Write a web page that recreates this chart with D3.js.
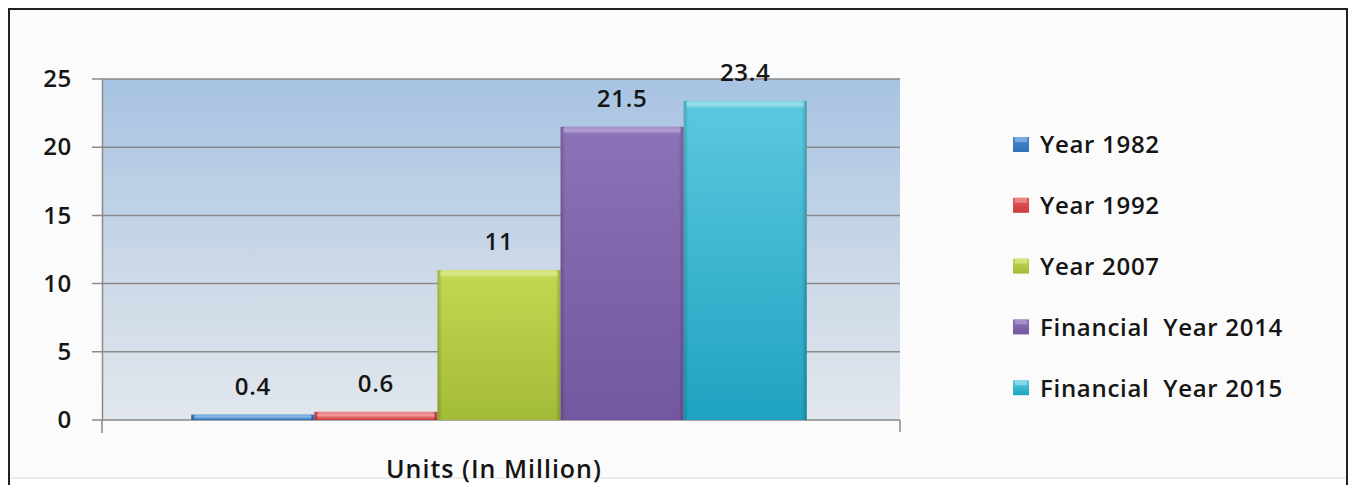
<!DOCTYPE html>
<html><head><meta charset="utf-8">
<script src="https://cdn.jsdelivr.net/npm/d3@7"></script>
<style>html,body{margin:0;padding:0;background:#fff;}svg{display:block;}</style>
</head><body>
<svg id="c" width="1354" height="485"></svg>
<script>
const categories = ["Units (In Million)"];
const seriesNames = ["Year 1982","Year 1992","Year 2007","Financial  Year 2014","Financial  Year 2015"];
const seriesValues = [0.4, 0.6, 11, 21.5, 23.4];
const valueLabels = ["0.4","0.6","11","21.5","23.4"];
const yTicks = [0,5,10,15,20,25];
const colorsTop = ["#4a8ad0","#e25a5a","#c4d752","#8c72b6","#5cc8df"];
const colorsBot = ["#2f6fb4","#cc3c3e","#a3bc38","#7357a0","#1fa3c1"];
const highlight = ["#8fbbe8","#f09a9a","#dbe88e","#b3a0d2","#9ae0ee"];

const svg = d3.select("#c");
const font = "'Open Sans', sans-serif";
const fs = 24, fw = 600, tc = "#151515", ls = "0.7px";
const defs = svg.append("defs");

// frame
svg.append("rect").attr("x",9).attr("y",9).attr("width",1338).attr("height",469).attr("fill","#fbfbfb").attr("stroke","none");
svg.append("line").attr("x1",9).attr("y1",478).attr("x2",1347).attr("y2",478).attr("stroke","#e6e6e6").attr("stroke-width",1.5);
svg.append("path").attr("d","M9,485 L9,9 L1347,9 L1347,485").attr("fill","none").attr("stroke","#222").attr("stroke-width",2);

const plot = {l:102, r:900, t:79, b:420};
const y = d3.scaleLinear().domain([0,25]).range([plot.b, plot.t]);
const x0 = d3.scaleBand().domain(categories).range([plot.l, plot.r - 4]).paddingInner(0).paddingOuter(0.145);
const x1 = d3.scaleBand().domain(seriesNames).range([0, x0.bandwidth()]).padding(0);

// plot background gradient
const bg = defs.append("linearGradient").attr("id","bg").attr("x1",0).attr("y1",0).attr("x2",0).attr("y2",1);
bg.append("stop").attr("offset","0%").attr("stop-color","#a7c3e2");
bg.append("stop").attr("offset","55%").attr("stop-color","#cbd8e7");
bg.append("stop").attr("offset","100%").attr("stop-color","#e2e7ed");
svg.append("rect").attr("x",plot.l).attr("y",plot.t).attr("width",plot.r-plot.l).attr("height",plot.b-plot.t).attr("fill","url(#bg)");

// gridlines
svg.append("g").selectAll("line").data(yTicks).join("line")
  .attr("x1",plot.l-10).attr("x2",plot.r).attr("y1",d=>y(d)).attr("y2",d=>y(d))
  .attr("stroke","#8a8a8a").attr("stroke-width",1.5);

// y axis
const yAxis = svg.append("g").attr("transform",`translate(${plot.l},0)`)
  .call(d3.axisLeft(y).tickValues(yTicks).tickSize(0).tickPadding(30));
yAxis.select(".domain").attr("stroke","#8a8a8a").attr("stroke-width",1.5);
yAxis.selectAll("text").attr("font-family",font).attr("font-size",fs).attr("font-weight",fw).attr("fill",tc).attr("letter-spacing",ls);
svg.append("line").attr("x1",plot.l).attr("x2",plot.l).attr("y1",plot.b).attr("y2",plot.b+13).attr("stroke","#8a8a8a").attr("stroke-width",1.5);
svg.append("line").attr("x1",plot.r).attr("x2",plot.r).attr("y1",plot.b).attr("y2",plot.b+12).attr("stroke","#8a8a8a").attr("stroke-width",1.5);

// gradients for bars
seriesNames.forEach((s,i)=>{
  const g = defs.append("linearGradient").attr("id","bar"+i).attr("x1",0).attr("y1",0).attr("x2",0).attr("y2",1);
  g.append("stop").attr("offset","0%").attr("stop-color",colorsTop[i]);
  g.append("stop").attr("offset","100%").attr("stop-color",colorsBot[i]);
  const h = defs.append("linearGradient").attr("id","hl"+i).attr("x1",0).attr("y1",0).attr("x2",0).attr("y2",1);
  h.append("stop").attr("offset","0%").attr("stop-color",highlight[i]).attr("stop-opacity",0.6);
  h.append("stop").attr("offset","45%").attr("stop-color",highlight[i]).attr("stop-opacity",1);
  h.append("stop").attr("offset","100%").attr("stop-color",colorsTop[i]).attr("stop-opacity",0);
});
const edge = defs.append("linearGradient").attr("id","edge").attr("x1",0).attr("y1",0).attr("x2",1).attr("y2",0);
edge.append("stop").attr("offset","0%").attr("stop-color","#000").attr("stop-opacity",0.18);
edge.append("stop").attr("offset","4%").attr("stop-color","#000").attr("stop-opacity",0);
edge.append("stop").attr("offset","96%").attr("stop-color","#000").attr("stop-opacity",0);
edge.append("stop").attr("offset","100%").attr("stop-color","#000").attr("stop-opacity",0.22);

const data = seriesNames.map((s,i)=>({s, v:seriesValues[i], label:valueLabels[i], i}));
const gx = x0(categories[0]);
const bars = svg.append("g").selectAll("g").data(data).join("g");
bars.append("rect").attr("x",d=>gx+x1(d.s)).attr("width",x1.bandwidth())
  .attr("y",d=>y(d.v)).attr("height",d=>y(0)-y(d.v)).attr("fill",d=>`url(#bar${d.i})`);
bars.append("rect").attr("x",d=>gx+x1(d.s)).attr("width",x1.bandwidth())
  .attr("y",d=>y(d.v)).attr("height",d=>y(0)-y(d.v)).attr("fill","url(#edge)");
bars.append("rect").attr("x",d=>gx+x1(d.s)+3).attr("width",x1.bandwidth()-6)
  .attr("y",d=>y(d.v)).attr("height",d=>Math.min(9,y(0)-y(d.v))).attr("rx",3)
  .attr("fill",d=>`url(#hl${d.i})`);
bars.append("text").attr("x",d=>gx+x1(d.s)+x1.bandwidth()/2).attr("y",d=>y(d.v)-28)
  .attr("dy","0.35em").attr("text-anchor","middle").attr("font-family",font).attr("font-size",fs).attr("font-weight",fw)
  .attr("letter-spacing",ls).attr("fill",tc).text(d=>d.label);

// category axis label
svg.append("text").attr("x",494).attr("y",469).attr("dy","0.35em")
  .attr("text-anchor","middle").attr("font-family",font).attr("font-size",25).attr("font-weight",fw)
  .attr("letter-spacing","1px").attr("fill",tc).text(categories[0]);

// legend
const lg = svg.append("g").selectAll("g").data(data).join("g")
  .attr("transform",(d,i)=>`translate(1013,${145+i*60.8})`);
lg.append("rect").attr("x",0).attr("y",-8).attr("width",16).attr("height",15).attr("fill",d=>`url(#bar${d.i})`);
lg.append("rect").attr("x",2).attr("y",-8).attr("width",12).attr("height",5).attr("fill",d=>highlight[d.i]).attr("opacity",0.7);
lg.append("text").attr("x",27).attr("y",0).attr("dy","0.35em").attr("font-family",font).attr("font-size",fs).attr("font-weight",fw)
  .attr("letter-spacing",ls).attr("fill",tc).attr("xml:space","preserve").style("white-space","pre").text(d=>d.s);
</script>
</body></html>
